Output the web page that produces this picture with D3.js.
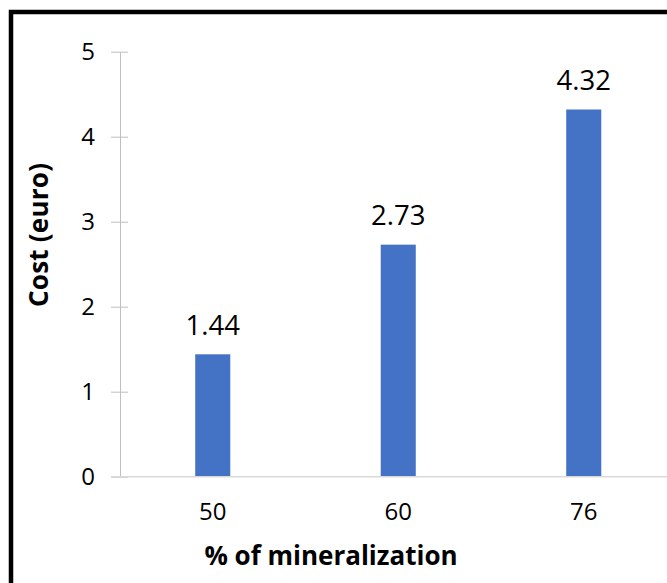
<!DOCTYPE html>
<html><head><meta charset="utf-8">
<script src="https://cdn.jsdelivr.net/npm/d3@7"></script>
<style>body{margin:0;background:#fff}svg{display:block}</style>
</head><body>
<script>
const categories = ["50", "60", "76"];
const costs = [1.44, 2.73, 4.32];
const yTicks = [0, 1, 2, 3, 4, 5];

const W = 667, H = 583;
const svg = d3.select("body").append("svg").attr("width", W).attr("height", H);
svg.append("rect").attr("width", W).attr("height", H).attr("fill", "#fff");
svg.append("rect").attr("x", 11).attr("y", 12).attr("width", W + 20).attr("height", H + 20)
  .attr("fill", "none").attr("stroke", "#000").attr("stroke-width", 4.5);

const plotL = 120, plotR = 676.5, plotT = 51.7, plotB = 476.7;
const p = 0.811;
const x = d3.scaleBand().domain(categories).range([plotL, plotR]).paddingInner(p).paddingOuter(p / 2);
const y = d3.scaleLinear().domain([0, 5]).range([plotB, plotT]);
const font = "'Open Sans', sans-serif";

// y axis
const ya = svg.append("g").attr("transform", `translate(${plotL},0)`)
  .call(d3.axisLeft(y).tickValues(yTicks).tickSize(0).tickPadding(25).tickFormat(d3.format("d")));
ya.select(".domain").attr("stroke", "#bfbfbf");
ya.selectAll(".tick line").remove();
ya.selectAll(".tick").append("line").attr("x1", -9).attr("x2", 8).attr("stroke", "#bfbfbf");
ya.selectAll(".tick text").attr("font-family", font).attr("font-size", 24).attr("fill", "#000");

// bars
svg.append("g").selectAll("rect").data(costs).join("rect")
  .attr("x", (d, i) => x(categories[i]))
  .attr("width", x.bandwidth())
  .attr("y", d => y(d))
  .attr("height", d => y(0) - y(d))
  .attr("fill", "#4472c4");

// x axis
const xa = svg.append("g").attr("transform", `translate(0,${plotB})`)
  .call(d3.axisBottom(x).tickSize(0).tickPadding(26));
xa.select(".domain").remove();
xa.append("line").attr("x1", 111).attr("x2", W).attr("stroke", "#d9d9d9").attr("stroke-width", 1.5);
xa.selectAll(".tick text").attr("font-family", font).attr("font-size", 24).attr("fill", "#000");

// data labels
svg.append("g").selectAll("text").data(costs).join("text")
  .attr("x", (d, i) => x(categories[i]) + x.bandwidth() / 2)
  .attr("y", d => y(d) - 19.5)
  .attr("text-anchor", "middle")
  .attr("font-family", font).attr("font-size", 27.5).attr("fill", "#000")
  .text(d => d.toFixed(2));

// axis titles
svg.append("text").attr("x", 331).attr("y", 565).attr("text-anchor", "middle")
  .attr("font-family", font).attr("font-weight", "bold").attr("font-size", 26).attr("fill", "#000")
  .text("% of mineralization");
svg.append("text").attr("transform", "translate(48,235) rotate(-90)").attr("text-anchor", "middle")
  .attr("font-family", font).attr("font-weight", "bold").attr("font-size", 26).attr("fill", "#000")
  .attr("textLength", 144).attr("lengthAdjust", "spacing")
  .text("Cost (euro)");
</script>
</body></html>
